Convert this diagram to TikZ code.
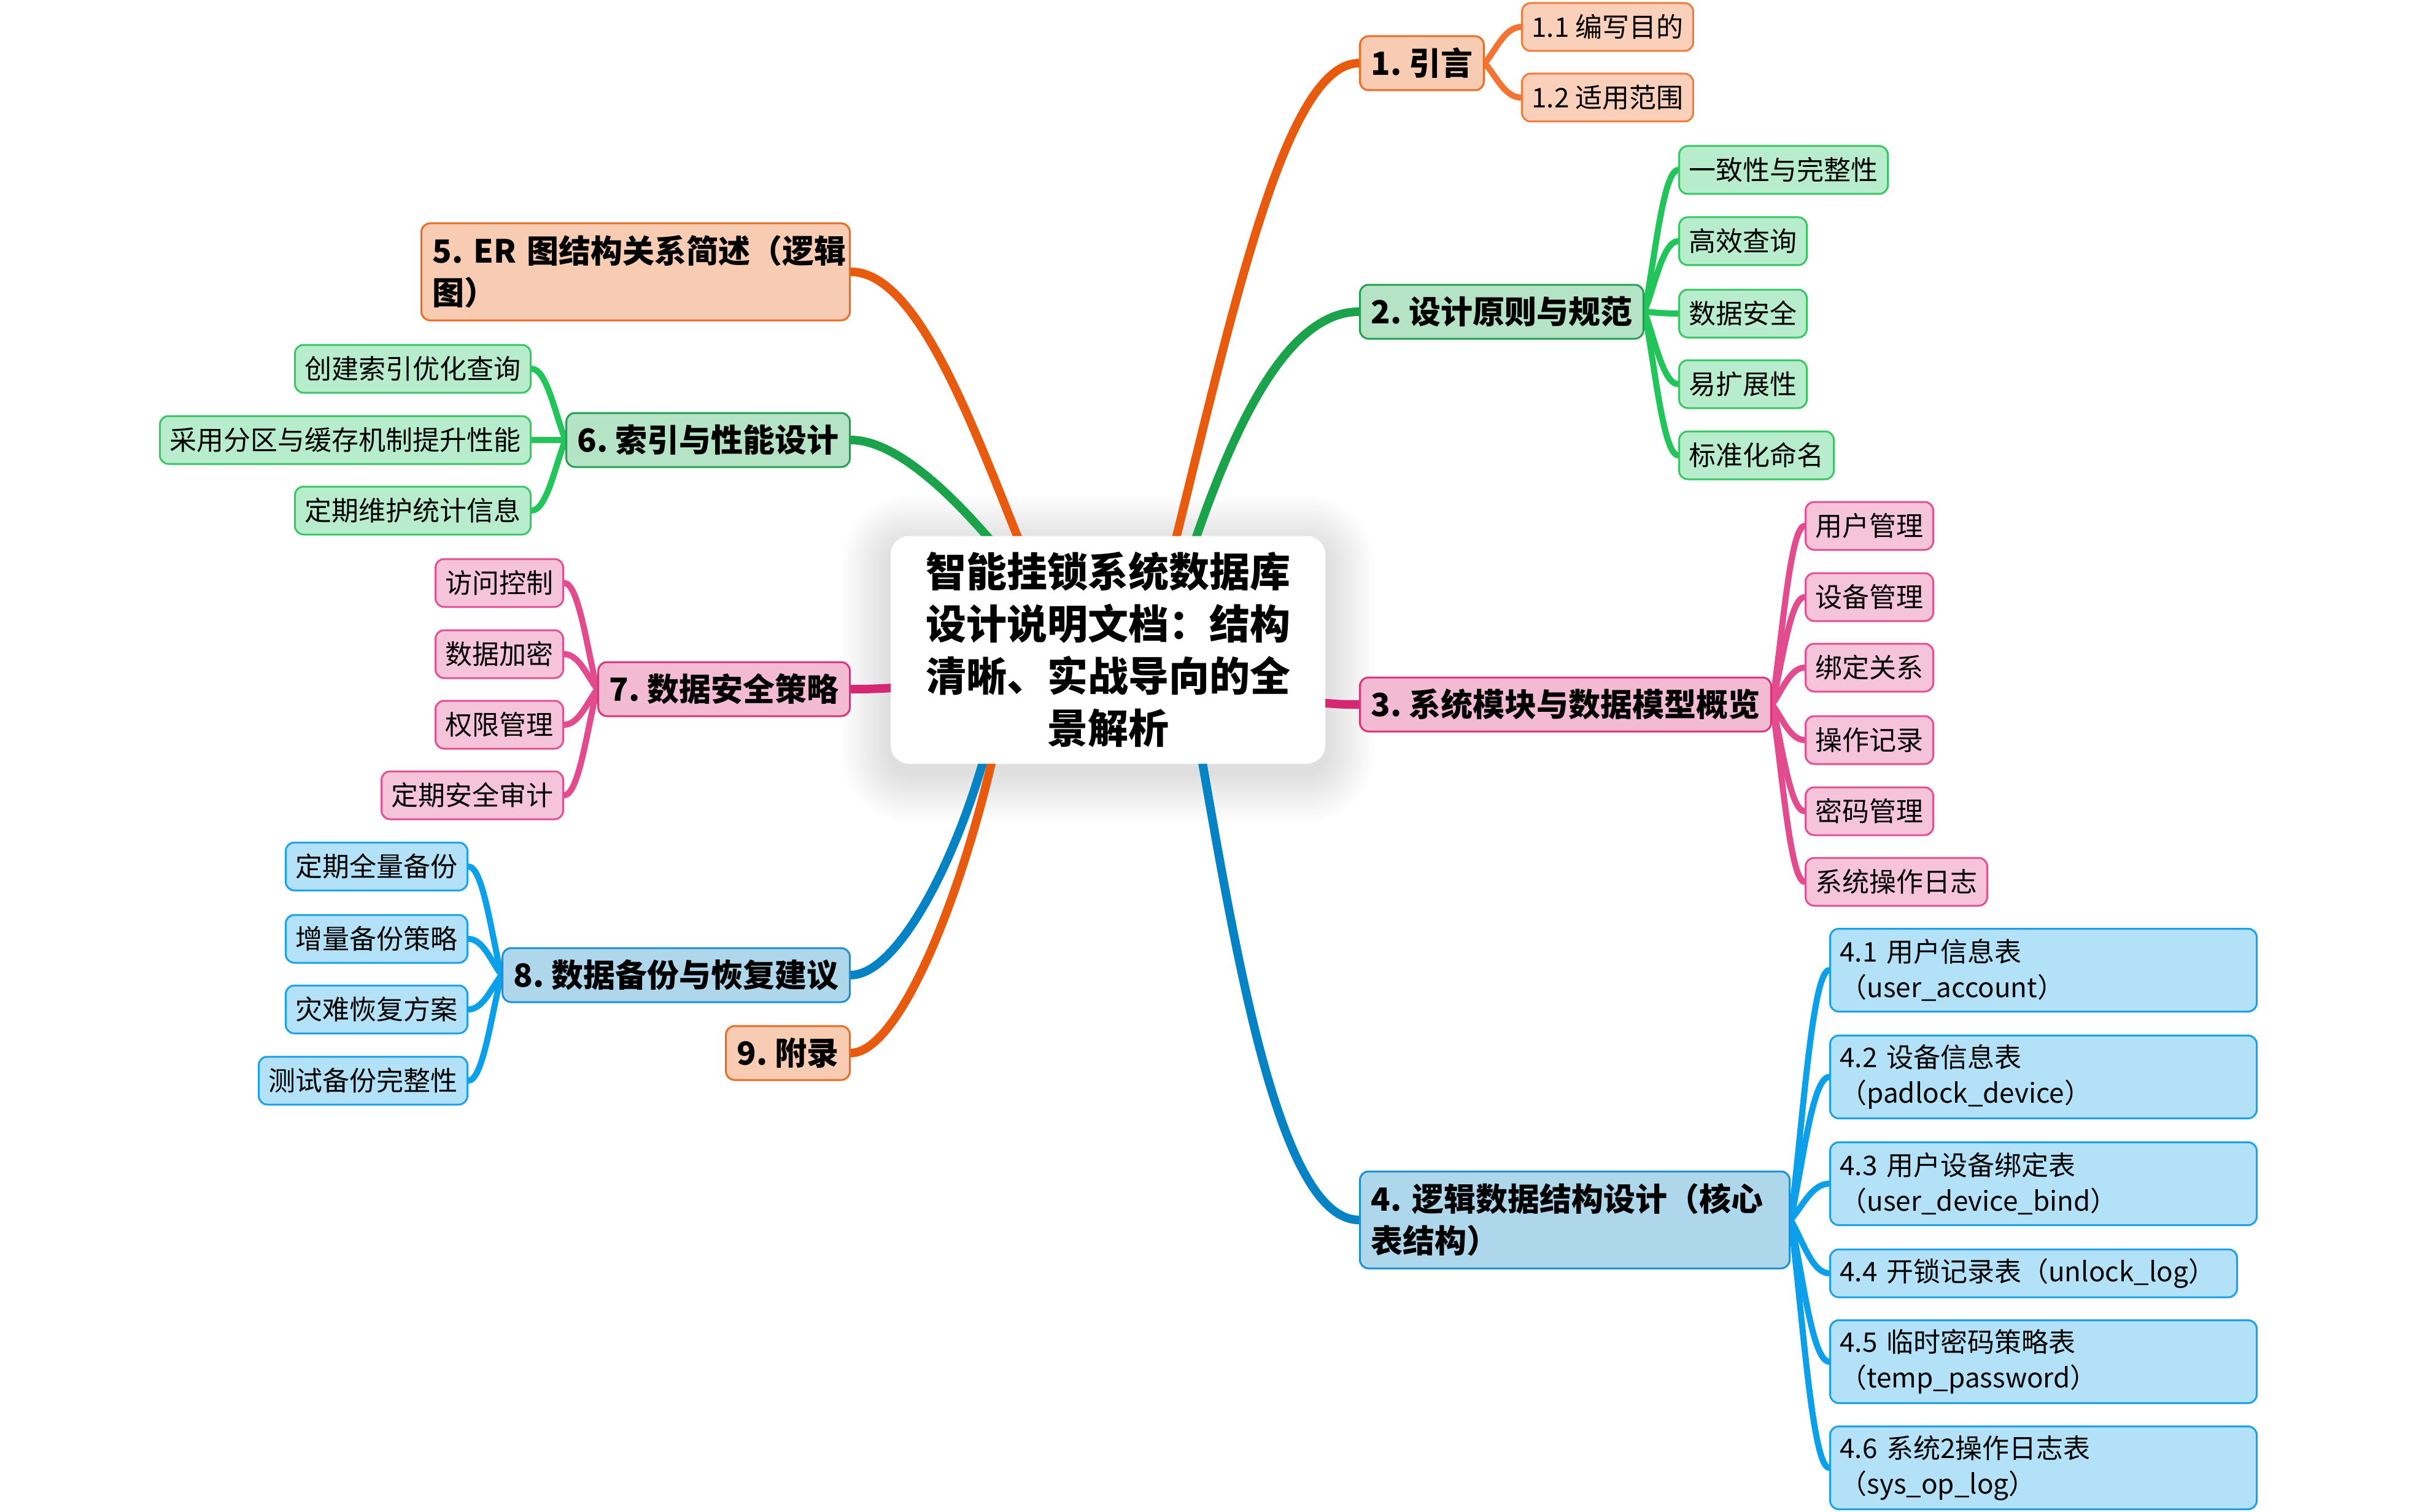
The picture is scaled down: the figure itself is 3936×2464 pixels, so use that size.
\documentclass[tikz,border=0pt]{standalone}
\usepackage{fontspec}
\setmainfont{Noto Sans CJK SC}
\usetikzlibrary{calc}
\pgfdeclarelayer{shadowlayer}
\pgfdeclarelayer{linklayer}
\pgfsetlayers{shadowlayer,linklayer,main}
\definecolor{orMain}{HTML}{E85A0E}
\definecolor{orFill}{HTML}{F8CCB2}
\definecolor{orBord}{HTML}{EE6A22}
\definecolor{orLine}{HTML}{F47333}
\definecolor{orKid}{HTML}{FAD0BA}
\definecolor{orKidB}{HTML}{F47A3A}
\definecolor{grMain}{HTML}{1AA34A}
\definecolor{grFill}{HTML}{B5E3C6}
\definecolor{grBord}{HTML}{22A050}
\definecolor{grLine}{HTML}{22C55A}
\definecolor{grKid}{HTML}{B7EDCC}
\definecolor{grKidB}{HTML}{37C763}
\definecolor{pkMain}{HTML}{D62872}
\definecolor{pkFill}{HTML}{F2BBD3}
\definecolor{pkBord}{HTML}{E0307A}
\definecolor{pkLine}{HTML}{E24B8D}
\definecolor{pkKid}{HTML}{F5C4DA}
\definecolor{pkKidB}{HTML}{E44E92}
\definecolor{blMain}{HTML}{0683C5}
\definecolor{blFill}{HTML}{AED7EC}
\definecolor{blBord}{HTML}{1D8FD3}
\definecolor{blLine}{HTML}{0CA0EA}
\definecolor{blKid}{HTML}{B2E1F8}
\definecolor{blKidB}{HTML}{1AA0EC}
\tikzset{
  box/.style={draw, rounded corners=14pt, line width=3pt, inner ysep=0pt, text=black},
  lvone/.style={box, inner xsep=18pt, font=\fontsize{52}{68}\selectfont\bfseries, minimum height=88pt},
  lvtwo/.style={box, inner xsep=16pt, font=\fontsize{44}{58}\selectfont, minimum height=78pt},
  tall/.style={minimum height=135pt, text width=663pt, align=left},
  ortop/.style={lvone, fill=orFill, draw=orBord},
  grtop/.style={lvone, fill=grFill, draw=grBord},
  pktop/.style={lvone, fill=pkFill, draw=pkBord},
  bltop/.style={lvone, fill=blFill, draw=blBord},
  orkid/.style={lvtwo, fill=orKid, draw=orKidB},
  grkid/.style={lvtwo, fill=grKid, draw=grKidB},
  pkkid/.style={lvtwo, fill=pkKid, draw=pkKidB},
  blkid/.style={lvtwo, fill=blKid, draw=blKidB},
  mainbr/.style={line width=14pt, line cap=round},
  kidbr/.style={line width=10pt, line cap=round},
  rootbox/.style={fill=white, rounded corners=30pt, minimum width=708pt, minimum height=371pt,
    text width=640pt, align=center, inner sep=0pt, font=\fontsize{66}{85}\selectfont\bfseries}
}
\newcommand\kidlink[5]{\draw[kidbr,#5] let \p1=(#1.#2), \p2=(#3.#4) in (\p1) .. controls ($(\p1)+({0.3*(\x2-\x1)},{0.35*(\y2-\y1)})$) and ($(\p2)+({-0.45*(\x2-\x1)},0pt)$) .. (\p2);}
\begin{document}
\frenchspacing
\begin{tikzpicture}[x=1pt,y=-1pt]
\useasboundingbox (0,0) rectangle (3936,2464);
% root
\node[rootbox] (root) at (1805,1059) {智能挂锁系统数据库\\设计说明文档：结构\\清晰、实战导向的全\\景解析};
% level one nodes, right
\node[ortop, anchor=west] (n1) at (2214,103) {1. 引言};
\node[grtop, anchor=west] (n2) at (2214,508) {2. 设计原则与规范};
\node[pktop, anchor=west] (n3) at (2214,1148) {3. 系统模块与数据模型概览};
\node[bltop, anchor=west, minimum height=158pt, text width=664pt, align=left] (n4) at (2214,1988) {\mbox{4. 逻辑数据结构设计（核心}\\表结构）};
% level one nodes, left
\node[ortop, anchor=east, minimum height=158pt, text width=662pt, align=left] (n5) at (1386,443) {\mbox{5. ER 图结构关系简述（逻辑}\\图）};
\node[grtop, anchor=east] (n6) at (1386,717) {6. 索引与性能设计};
\node[pktop, anchor=east] (n7) at (1386,1123) {7. 数据安全策略};
\node[bltop, anchor=east] (n8) at (1386,1589) {8. 数据备份与恢复建议};
\node[ortop, anchor=east] (n9) at (1386,1716) {9. 附录};
% children of 1
\node[orkid, anchor=west] (a1) at (2478,44) {1.1 编写目的};
\node[orkid, anchor=west] (a2) at (2478,159) {1.2 适用范围};
% children of 2
\node[grkid, anchor=west] (b1) at (2734,277) {一致性与完整性};
\node[grkid, anchor=west] (b2) at (2734,393) {高效查询};
\node[grkid, anchor=west] (b3) at (2734,511) {数据安全};
\node[grkid, anchor=west] (b4) at (2734,626) {易扩展性};
\node[grkid, anchor=west] (b5) at (2734,742) {标准化命名};
% children of 3
\node[pkkid, anchor=west] (c1) at (2940,857) {用户管理};
\node[pkkid, anchor=west] (c2) at (2940,973) {设备管理};
\node[pkkid, anchor=west] (c3) at (2940,1088) {绑定关系};
\node[pkkid, anchor=west] (c4) at (2940,1206) {操作记录};
\node[pkkid, anchor=west] (c5) at (2940,1322) {密码管理};
\node[pkkid, anchor=west] (c6) at (2940,1437) {系统操作日志};
% children of 4
\node[blkid, tall, anchor=west] (d1) at (2980,1581) {4.1 用户信息表\\（user\_account）};
\node[blkid, tall, anchor=west] (d2) at (2980,1755) {4.2 设备信息表\\（padlock\_device）};
\node[blkid, tall, anchor=west] (d3) at (2980,1929) {4.3 用户设备绑定表\\（user\_device\_bind）};
\node[blkid, anchor=west, text width=631pt, align=left] (d4) at (2980,2075) {4.4 开锁记录表（unlock\_log）};
\node[blkid, tall, anchor=west] (d5) at (2980,2219) {4.5 临时密码策略表\\（temp\_password）};
\node[blkid, tall, anchor=west] (d6) at (2980,2392) {4.6 系统2操作日志表\\（sys\_op\_log）};
% children of 6
\node[grkid, anchor=east] (e1) at (866,601) {创建索引优化查询};
\node[grkid, anchor=east] (e2) at (866,717) {采用分区与缓存机制提升性能};
\node[grkid, anchor=east] (e3) at (866,832) {定期维护统计信息};
% children of 7
\node[pkkid, anchor=east] (f1) at (919,950) {访问控制};
\node[pkkid, anchor=east] (f2) at (919,1066) {数据加密};
\node[pkkid, anchor=east] (f3) at (919,1181) {权限管理};
\node[pkkid, anchor=east] (f4) at (919,1296) {定期安全审计};
% children of 8
\node[blkid, anchor=east] (g1) at (763,1412) {定期全量备份};
\node[blkid, anchor=east] (g2) at (763,1530) {增量备份策略};
\node[blkid, anchor=east] (g3) at (763,1645) {灾难恢复方案};
\node[blkid, anchor=east] (g4) at (763,1761) {测试备份完整性};
% soft shadow of the root
\begin{pgfonlayer}{shadowlayer}
\foreach \i in {1,...,16} {
  \fill[black, opacity=0.007, rounded corners={30+5*\i}] ({1451-5*\i},{874-5*\i+14}) rectangle ({2159+5*\i},{1245+5*\i+14});
}
\end{pgfonlayer}
\begin{pgfonlayer}{linklayer}
% child connectors
\kidlink{n1}{east}{a1}{west}{orLine}
\kidlink{n1}{east}{a2}{west}{orLine}
\foreach \k in {b1,b2,b3,b4,b5} {\kidlink{n2}{east}{\k}{west}{grLine}}
\foreach \k in {c1,c2,c3,c4,c5,c6} {\kidlink{n3}{east}{\k}{west}{pkLine}}
\foreach \k in {d1,d2,d3,d4,d5,d6} {\kidlink{n4}{east}{\k}{west}{blLine}}
\foreach \k in {e1,e2,e3} {\kidlink{n6}{west}{\k}{east}{grLine}}
\foreach \k in {f1,f2,f3,f4} {\kidlink{n7}{west}{\k}{east}{pkLine}}
\foreach \k in {g1,g2,g3,g4} {\kidlink{n8}{west}{\k}{east}{blLine}}
% main branches
\coordinate (s1) at (1870,1059);
\coordinate (s2) at (1890,1059);
\coordinate (s3) at (2100,1140);
\coordinate (s4) at (1925,1059);
\coordinate (s5) at (1740,1059);
\coordinate (s6) at (1750,1059);
\coordinate (s7) at (1510,1118);
\coordinate (s8) at (1640,1059);
\coordinate (s9) at (1650,1059);
\draw[mainbr, orMain] (s1) .. controls (1990,600) and (2080,103) .. (n1.west);
\draw[mainbr, grMain] (s2) .. controls (1960,830) and (2060,508) .. (n2.west);
\draw[mainbr, pkMain] (s3) .. controls (2180,1148) .. (n3.west);
\draw[mainbr, blMain] (s4) .. controls (1990,1380) and (2060,1988) .. (n4.west);
\draw[mainbr, orMain] (s5) .. controls (1640,880) and (1530,443) .. (n5.east);
\draw[mainbr, grMain] (s6) .. controls (1660,930) and (1500,717) .. (n6.east);
\draw[mainbr, pkMain] (s7) .. controls (1420,1123) .. (n7.east);
\draw[mainbr, blMain] (s8) .. controls (1610,1300) and (1480,1589) .. (n8.east);
\draw[mainbr, orMain] (s9) .. controls (1610,1350) and (1480,1716) .. (n9.east);
\end{pgfonlayer}
\end{tikzpicture}
\end{document}
